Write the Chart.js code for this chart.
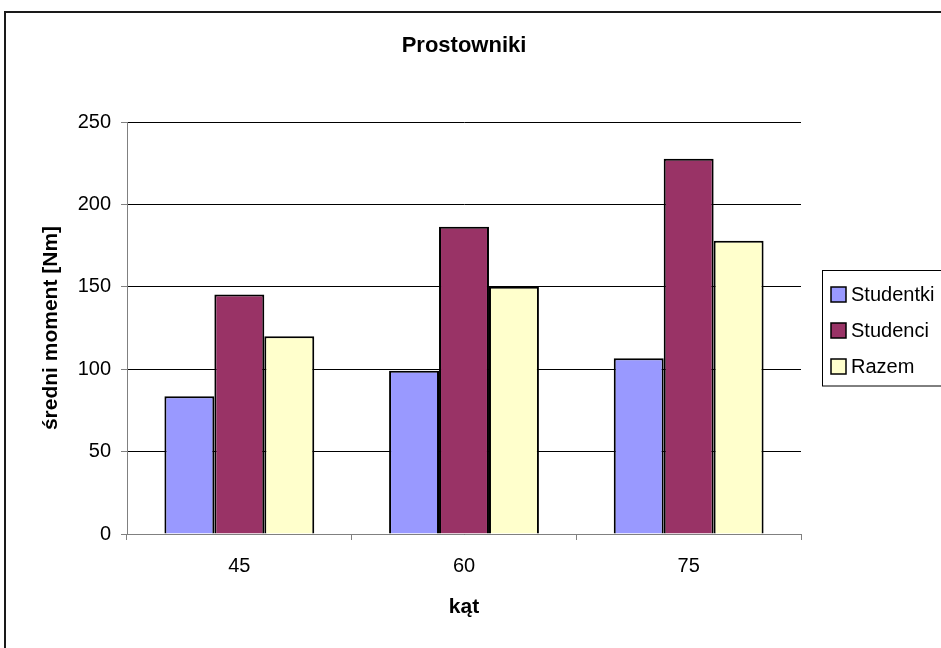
<!DOCTYPE html>
<html>
<head>
<meta charset="utf-8">
<script src="https://cdn.jsdelivr.net/npm/chart.js@4"></script>
<style>
html,body{margin:0;padding:0;background:#fff;}
#wrap{width:941px;height:648px;position:relative;}
</style>
</head>
<body>
<div id="wrap"><canvas id="c" width="941" height="648"></canvas></div>
<script>
const categories = ['45', '60', '75'];
const studentki = [83.6, 99.1, 106.6];
const studenci = [145.4, 186.5, 227.7];
const razem = [120.0, 150.1, 178.0];
const seriesNames = ['Studentki', 'Studenci', 'Razem'];
const seriesColors = ['#9999FF', '#993366', '#FFFFCC'];
const titleText = 'Prostowniki';
const xTitle = 'kąt';
const yTitle = 'średni moment [Nm]';

const FONT = '"Liberation Sans", Arial, sans-serif';

const frame = {
  id: 'frame',
  beforeDraw(chart) {
    const ctx = chart.ctx;
    ctx.save();
    ctx.fillStyle = '#fff';
    ctx.fillRect(0, 0, chart.width, chart.height);
    ctx.strokeStyle = '#1a1a1a';
    ctx.lineWidth = 2;
    ctx.strokeRect(5, 12, 1000, 1000);
    ctx.restore();
  },
  afterDraw(chart) {
    const ctx = chart.ctx;
    const ca = chart.chartArea;
    ctx.save();
    // title centred over the plot area
    ctx.font = 'bold 22px ' + FONT;
    ctx.fillStyle = '#000';
    ctx.textAlign = 'center';
    ctx.textBaseline = 'middle';
    ctx.fillText(titleText, (ca.left + ca.right) / 2, 46);
    // legend
    ctx.textAlign = 'left';
    ctx.strokeStyle = '#000';
    ctx.lineWidth = 1;
    ctx.strokeRect(822.5, 270.5, 300, 115.5);
    const ys = [294.5, 330.5, 366.5];
    ctx.font = '20px ' + FONT;
    chart.data.datasets.forEach((ds, i) => {
      const y = ys[i];
      ctx.fillStyle = ds.backgroundColor;
      ctx.fillRect(831, y - 7.5, 15, 15);
      ctx.lineWidth = 1.5;
      ctx.strokeStyle = '#000';
      ctx.strokeRect(831, y - 7.5, 15, 15);
      ctx.fillStyle = '#000';
      ctx.fillText(ds.label, 851, y + 1);
    });
    ctx.restore();
  }
};

new Chart(document.getElementById('c'), {
  type: 'bar',
  data: {
    labels: categories,
    datasets: [studentki, studenci, razem].map((d, i) => ({
      label: seriesNames[i],
      data: d,
      backgroundColor: seriesColors[i],
      borderColor: '#000',
      borderWidth: 2,
      borderSkipped: 'bottom',
      categoryPercentage: 0.667,
      barPercentage: 1.0
    }))
  },
  options: {
    responsive: false,
    animation: false,
    devicePixelRatio: 1,
    layout: { padding: { left: 0, right: 140, top: 122, bottom: 0 } },
    plugins: {
      legend: { display: false },
      tooltip: { enabled: false },
      title: { display: false }
    },
    scales: {
      x: {
        afterFit(s) { s.height = 114; },
        grid: { offset: true, drawOnChartArea: false, tickLength: 6, color: '#808080', lineWidth: 1 },
        border: { color: '#808080', width: 1 },
        ticks: { color: '#000', font: { family: FONT, size: 20 }, padding: 14 },
        title: {
          display: true, text: xTitle, color: '#000',
          font: { family: FONT, size: 21, weight: 'bold' },
          padding: { top: 0, bottom: 28 }
        }
      },
      y: {
        min: 0, max: 250,
        afterFit(s) { s.width = 127; },
        grid: { color: '#000', lineWidth: 1, tickLength: 6, tickColor: '#808080' },
        border: { color: '#808080', width: 1 },
        ticks: { stepSize: 50, color: '#000', font: { family: FONT, size: 20 }, padding: 10 },
        title: {
          display: true, text: yTitle, color: '#000',
          font: { family: FONT, size: 21, weight: 'bold' },
          padding: { top: 39, bottom: 0 }
        }
      }
    }
  },
  plugins: [frame]
});
</script>
</body>
</html>
